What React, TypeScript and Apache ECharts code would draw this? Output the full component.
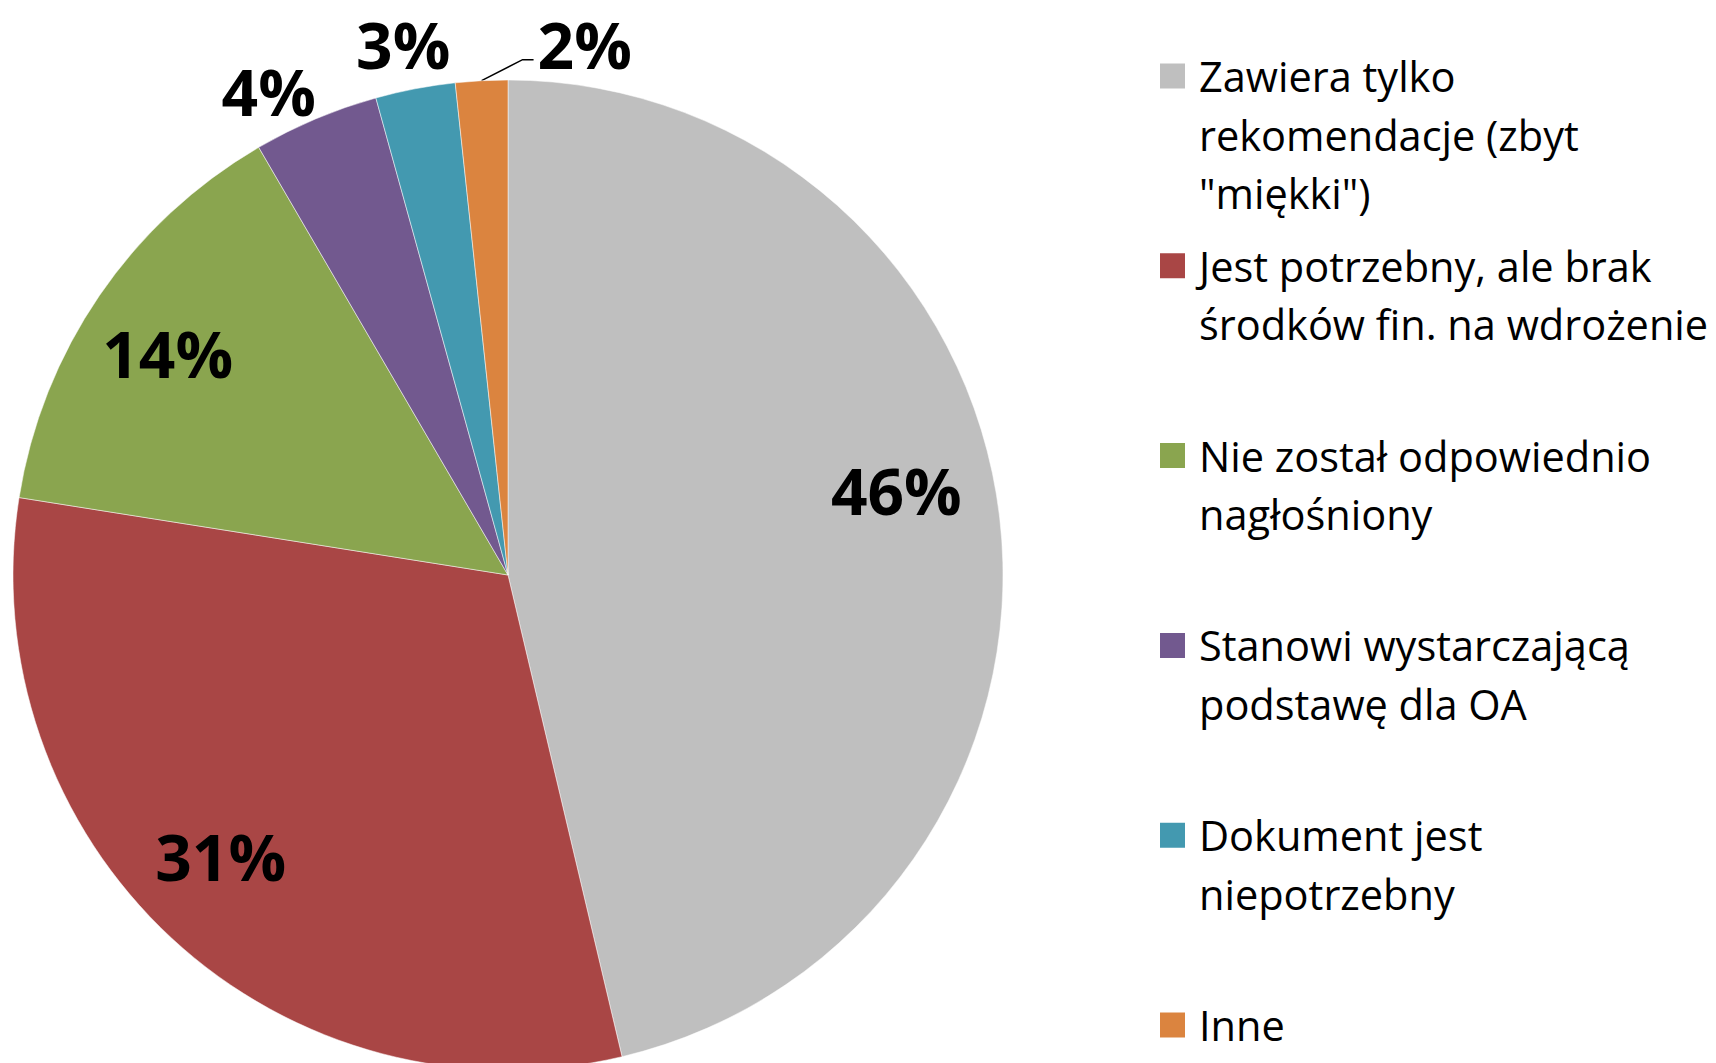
import React, { useEffect, useRef } from 'react';
import * as echarts from 'echarts';

// ---- data ----
const categories: string[] = [
  'Zawiera tylko\nrekomendacje (zbyt\n"miękki")',
  'Jest potrzebny, ale brak\nśrodków fin. na wdrożenie',
  'Nie został odpowiednio\nnagłośniony',
  'Stanowi wystarczającą\npodstawę dla OA',
  'Dokument jest\nniepotrzebny',
  'Inne',
];
const shares: number[] = [46.3, 31.2, 14.1, 4.1, 2.6, 1.7];
const colors: string[] = ['#BFBFBF', '#A94645', '#8AA54F', '#72598F', '#4399B0', '#DB843F'];

// ---- layout / style ----
const FONT = '"Open Sans", "Noto Sans", sans-serif';
const CX = 508;
const CY = 575;
const R = 495;
const INSIDE_MIN = 10; // slices at least this big get inside labels
const LEGEND_LEFT = 1158;
const LEGEND_FIRST = 76;
const LEGEND_STEP = 189.8;
const LH = 58.5;
// nudges of outside labels relative to their slice's edge anchor
const outsideNudge: Record<number, { dx: number; dy: number; align: string; leader?: boolean }> = {
  3: { dx: -47, dy: -27, align: 'center' },
  4: { dx: -12, dy: -44, align: 'center' },
  5: { dx: 56, dy: -36, align: 'left', leader: true },
};
// small shifts of the inside labels (Excel "best fit" placement)
const insideNudge: Record<number, { dx: number; dy: number }> = {
  0: { dx: -8, dy: -38 },
  1: { dx: -16, dy: -11 },
  2: { dx: -11, dy: 4 },
};

const pctLabel = (p: any) => `${Math.round(p.percent)}%`;

export default function App() {
  const ref = useRef<HTMLDivElement>(null);
  useEffect(() => {
    if (!ref.current) return;
    const chart = echarts.init(ref.current, undefined, { renderer: 'svg' });

    const labelFont = {
      fontFamily: FONT,
      fontSize: 64,
      fontWeight: 'bold' as const,
      color: '#000',
    };

    const mainData = categories.map((name, i) => ({
      name,
      value: shares[i],
      itemStyle: { color: colors[i] },
      label: { show: shares[i] < INSIDE_MIN },
      labelLine: {
        show: shares[i] < INSIDE_MIN,
        lineStyle: { opacity: outsideNudge[i] && outsideNudge[i].leader ? 1 : 0 },
      },
    }));

    const insideData = categories.map((name, i) => ({
      name,
      value: shares[i],
      label: { show: shares[i] >= INSIDE_MIN },
    }));

    const legends = categories.map((name, i) => {
      const lines = name.split('\n').length;
      const L = 2 * lines - 1;
      return {
        data: [name],
        orient: 'vertical',
        left: LEGEND_LEFT,
        top: LEGEND_FIRST + i * LEGEND_STEP - (L * LH) / 2,
        padding: 0,
        itemWidth: 27,
        itemHeight: 27,
        icon: 'rect',
        selectedMode: false,
        formatter: (n: string) => '\n'.repeat(lines - 1) + n,
        textStyle: {
          fontFamily: FONT,
          fontSize: 41.5,
          lineHeight: LH,
          color: '#000',
          padding: [0, 0, 0, 8],
        },
      };
    });

    chart.setOption({
      animation: false,
      backgroundColor: '#fff',
      legend: legends,
      series: [
        {
          type: 'pie',
          name: 'main',
          center: [CX, CY],
          radius: R,
          startAngle: 90,
          clockwise: true,
          avoidLabelOverlap: false,
          itemStyle: { borderColor: '#fff', borderWidth: 0.5 },
          emphasis: { disabled: true },
          label: {
            position: 'outside',
            formatter: pctLabel,
            ...labelFont,
          },
          labelLine: {
            length: 10,
            length2: 10,
            lineStyle: { color: '#000', width: 1.5 },
          },
          labelLayout: (p: any) => {
            const pts = p.labelLinePoints;
            const n = outsideNudge[p.dataIndex];
            if (!pts || !n) return {};
            const ax = pts[0][0];
            const ay = pts[0][1];
            const out: any = {
              x: ax + n.dx,
              y: ay + n.dy,
              align: n.align,
              verticalAlign: 'middle',
            };
            if (n.leader) {
              out.labelLinePoints = [
                [ax, ay],
                [ax + 41, ay - 21],
                [ax + 52, ay - 21],
              ];
            }
            return out;
          },
          data: mainData,
        },
        {
          type: 'pie',
          name: 'insideLabels',
          center: [CX, CY],
          radius: [R * 0.6, R],
          startAngle: 90,
          clockwise: true,
          silent: true,
          avoidLabelOverlap: false,
          legendHoverLink: false,
          itemStyle: { color: 'rgba(0,0,0,0)', borderWidth: 0 },
          emphasis: { disabled: true },
          label: {
            position: 'inside',
            formatter: pctLabel,
            ...labelFont,
          },
          labelLine: { show: false },
          labelLayout: (p: any) => {
            const n = insideNudge[p.dataIndex];
            return n ? { dx: n.dx, dy: n.dy } : {};
          },
          data: insideData,
        },
      ],
    });

    return () => chart.dispose();
  }, []);

  return (
    <div
      ref={ref}
      style={{ position: 'fixed', left: 0, top: 0, width: 1716, height: 1063, background: '#fff' }}
    />
  );
}
